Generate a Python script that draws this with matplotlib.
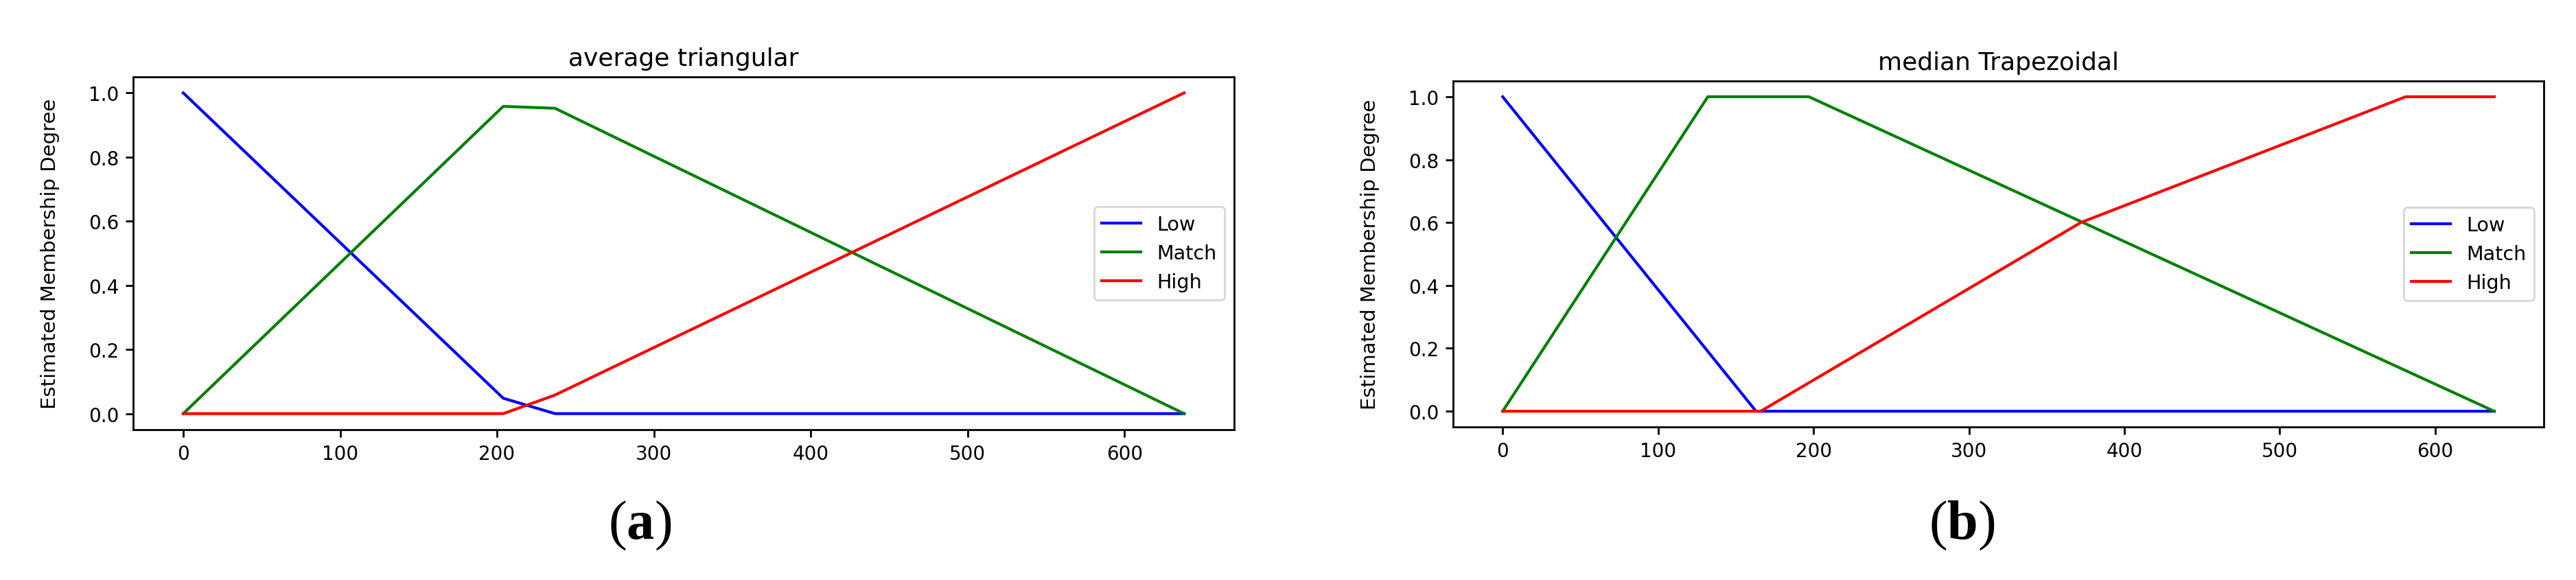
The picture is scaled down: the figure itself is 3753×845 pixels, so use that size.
import matplotlib
matplotlib.use('Agg')
import matplotlib.pyplot as plt

# (a) average triangular - breakpoints
tri_x = [0, 204, 237, 638]
tri_low = [1.0, 0.048, 0.0, 0.0]
tri_match = [0.0, 0.958, 0.952, 0.0]
tri_high = [0.0, 0.0, 0.058, 1.0]

# (b) median Trapezoidal
trap_low_x = [0, 163, 638]
trap_low = [1.0, 0.0, 0.0]
trap_match_x = [0, 132, 197, 638]
trap_match = [0.0, 1.0, 1.0, 0.0]
trap_high_x = [0, 166, 372, 581, 638]
trap_high = [0.0, 0.0, 0.6, 1.0, 1.0]

titles = ['average triangular', 'median Trapezoidal']
sub_labels = ['a', 'b']
names = ['Low', 'Match', 'High']
colors = ['blue', 'green', 'red']


def membershipPanel(ax, xs, ys, title):
	for x, y, name, c in zip(xs, ys, names, colors):
		ax.plot(x, y, color=c, lw=1.5, label=name)
	ax.set_title(title, fontsize=13)
	ax.set_ylabel('Estimated Membership Degree', fontsize=10.5, labelpad=15)
	ax.set_xticks([0, 100, 200, 300, 400, 500, 600])
	ax.set_yticks([0.0, 0.2, 0.4, 0.6, 0.8, 1.0])
	ax.tick_params(labelsize=10, width=1.0, length=4)
	for s in ax.spines.values():
		s.set_linewidth(1.0)
	ax.legend(loc='center right', fontsize=10.3)


def main():
	plt.rcParams['mathtext.fontset'] = 'custom'
	plt.rcParams['mathtext.rm'] = 'Liberation Serif'
	plt.rcParams['mathtext.bf'] = 'Liberation Serif:bold'

	fig = plt.figure(figsize=(18.765, 4.2299), dpi=200)
	ax1 = fig.add_axes([0.0517, 0.2589, 0.4274, 0.6076])
	ax2 = fig.add_axes([0.5641, 0.2636, 0.4234, 0.5957])

	membershipPanel(ax1, [tri_x, tri_x, tri_x], [tri_low, tri_match, tri_high], titles[0])
	membershipPanel(ax2, [trap_low_x, trap_match_x, trap_high_x],
		[trap_low, trap_match, trap_high], titles[1])

	for xc, lab in zip([932 / 3753, 2858 / 3753], sub_labels):
		fig.text(xc, 1 - 765 / 846, r'$\mathrm{(}\mathbf{' + lab + r'}\mathrm{)}$',
			fontsize=29, ha='center', va='center')

	fig.savefig('out.png', dpi=200)


if __name__ == '__main__':
	main()
